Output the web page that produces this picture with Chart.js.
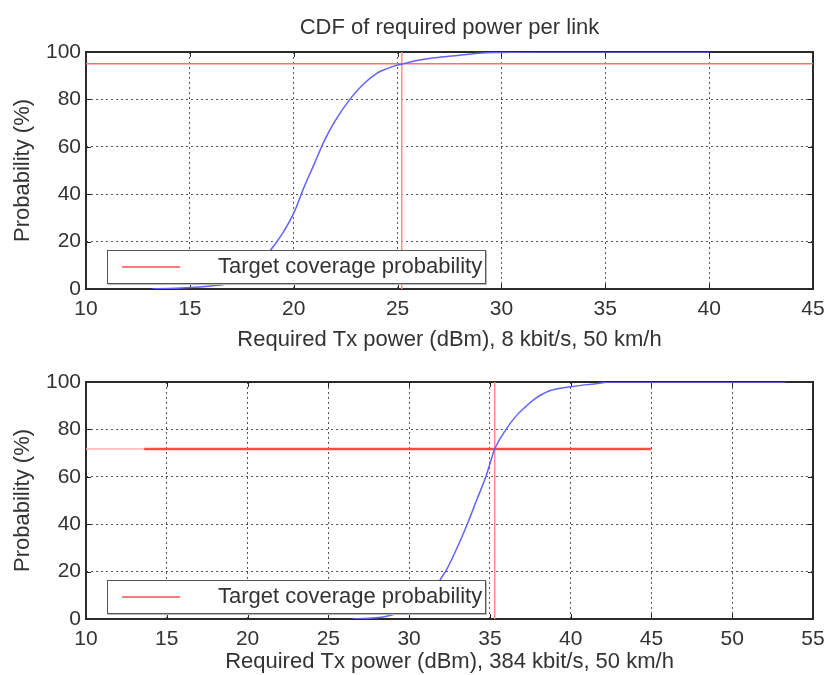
<!DOCTYPE html>
<html>
<head>
<meta charset="utf-8">
<script src="https://cdn.jsdelivr.net/npm/chart.js@4.4.1/dist/chart.umd.min.js"></script>
<style>
  body { margin: 0; background: #fff; width: 825px; height: 675px; position: relative; overflow: hidden; font-family: 'Liberation Sans', Arial, sans-serif; }
  .plot { position: absolute; left: 0; width: 825px; }
  #topWrap { top: 0; height: 353px; }
  #botWrap { top: 353px; height: 322px; }
  .title { position: absolute; left: 86px; width: 727px; top: 16px; text-align: center; font-size: 22px; line-height: 22px; color: #333; }
  .legend { position: absolute; left: 107px; width: 379px; height: 34px; box-sizing: border-box; border: 1.5px solid #555; background: #fff; box-shadow: 1px 1px 0 #bbb; }
  .legend .swatch { position: absolute; left: 14px; top: 15px; width: 58px; height: 2px; background: #ff7b7b; }
  .legend .label { position: absolute; left: 110px; top: 2px; font-size: 22px; color: #333; white-space: nowrap; }
</style>
</head>
<body>
<div class="plot" id="topWrap"><canvas id="topChart"></canvas></div>
<div class="plot" id="botWrap"><canvas id="botChart"></canvas></div>
<div class="title">CDF of required power per link</div>
<div class="legend" style="top:250px"><div class="swatch"></div><span class="label">Target coverage probability</span></div>
<div class="legend" style="top:580px"><div class="swatch"></div><span class="label">Target coverage probability</span></div>
<script>
// ---- data ----
const topPower = [13.2, 14, 15, 16, 16.7, 17.5, 18.3, 19, 19.5, 20, 20.5, 21, 21.5, 22, 22.7, 23.3, 24, 24.5, 25, 25.5, 26, 26.7, 27.6, 28.9, 30, 31.5, 35, 40];
const topProb  = [0, 0.2, 0.6, 1.3, 2, 5, 10, 17.7, 24, 32, 43, 53, 63, 71, 80, 86, 91, 93, 94.5, 95.5, 96.5, 97.5, 98.3, 99.5, 99.8, 100, 100, 100];
const topTargetX = [10, 45];
const topTargetY = [95, 95];
const topMarkX = [25.2, 25.2];
const topMarkY = [0, 100];

const botPower = [26.5, 27.5, 28.4, 29.3, 30.5, 31.3, 32.25, 32.9, 33.6, 34.2, 34.75, 35.3, 36.0, 36.6, 37.2, 37.7, 38.7, 40, 41.8, 42.3, 45, 50, 53.3];
const botProb  = [0, 0.3, 0.8, 2.5, 6, 11, 20, 29, 40, 50.5, 60, 71.7, 80, 85.5, 89.5, 92.5, 96.3, 98, 99.5, 100, 100, 100, 100];
const botTargetX = [10, 13.6, 45];   // first stretch is drawn faint in the original
const botTargetY = [71.7, 71.7, 71.7];
const botMarkX = [35.3, 35.3];
const botMarkY = [0, 100];

const topXTicks = [10, 15, 20, 25, 30, 35, 40, 45];
const botXTicks = [10, 15, 20, 25, 30, 35, 40, 45, 50, 55];
const yTicks = [0, 20, 40, 60, 80, 100];

const FONT = "'Liberation Sans', Arial, sans-serif";
const TEXT = '#333';

const pts = (xs, ys) => xs.map((x, i) => ({ x, y: ys[i] }));

// matlab-ish box with inward ticks on all four sides
const framePlugin = {
  id: 'frame',
  beforeDatasetsDraw(chart) {
    const { ctx, chartArea: { left, top, right, bottom }, scales: { x, y } } = chart;
    ctx.save();
    ctx.strokeStyle = '#222';
    ctx.lineWidth = 1;
    ctx.beginPath();
    x.ticks.forEach(t => {
      const px = Math.round(x.getPixelForValue(t.value)) + 0.5;
      ctx.moveTo(px, top); ctx.lineTo(px, top + 5);
      ctx.moveTo(px, bottom); ctx.lineTo(px, bottom - 5);
    });
    y.ticks.forEach(t => {
      const py = Math.round(y.getPixelForValue(t.value)) + 0.5;
      ctx.moveTo(left, py); ctx.lineTo(left + 5, py);
      ctx.moveTo(right, py); ctx.lineTo(right - 5, py);
    });
    ctx.stroke();
    ctx.lineWidth = 2;
    ctx.strokeStyle = '#2a2a2a';
    ctx.strokeRect(left, top, right - left, bottom - top);
    ctx.restore();
  }
};

function makeChart(id, o) {
  return new Chart(document.getElementById(id), {
    type: 'line',
    data: {
      datasets: [
        { data: pts(o.power, o.prob), borderColor: '#6262ff', borderWidth: 1.5, cubicInterpolationMode: 'monotone' },
        {
          data: pts(o.targetX, o.targetY), borderColor: o.hColor, borderWidth: o.hWidth,
          segment: o.hFaintFirst ? {
            borderColor: c => c.p0DataIndex === 0 ? '#ffb0b0' : o.hColor,
            borderWidth: c => c.p0DataIndex === 0 ? 1.5 : o.hWidth
          } : {}
        },
        { data: pts(o.markX, o.markY), borderColor: '#ff8c8c', borderWidth: 1.5 }
      ]
    },
    options: {
      responsive: true, maintainAspectRatio: false, animation: false,
      parsing: false,
      elements: { point: { radius: 0 } },
      layout: { padding: o.padding },
      plugins: {
        legend: { display: false },
        tooltip: { enabled: false }
      },
      scales: {
        x: {
          type: 'linear', min: o.xTicks[0], max: o.xTicks[o.xTicks.length - 1],
          afterBuildTicks: s => { s.ticks = o.xTicks.map(v => ({ value: v })); },
          afterFit: s => { s.height = o.xHeight; s.paddingLeft = 0; s.paddingRight = 0; },
          grid: { color: '#555', drawTicks: false, lineWidth: 1 },
          border: { display: false, dash: [2, 3] },
          ticks: { color: TEXT, font: { family: FONT, size: 21 }, padding: 8, maxRotation: 0 },
          title: { display: true, text: o.xLabel, color: TEXT, font: { family: FONT, size: 22 }, padding: { top: 0, bottom: 0 } }
        },
        y: {
          type: 'linear', min: 0, max: 100,
          afterBuildTicks: s => { s.ticks = yTicks.map(v => ({ value: v })); },
          afterFit: s => { s.width = 86; },
          grid: { color: '#555', drawTicks: false, lineWidth: 1 },
          border: { display: false, dash: [2, 3] },
          ticks: { color: TEXT, font: { family: FONT, size: 21 }, padding: 5 },
          title: { display: true, text: 'Probability (%)', color: TEXT, font: { family: FONT, size: 22 }, padding: { top: 10, bottom: 0 } }
        }
      }
    },
    plugins: [framePlugin]
  });
}

makeChart('topChart', {
  power: topPower, prob: topProb,
  targetX: topTargetX, targetY: topTargetY, markX: topMarkX, markY: topMarkY,
  hColor: '#ff7070', hWidth: 1.5,
  xTicks: topXTicks, xHeight: 64,
  xLabel: 'Required Tx power (dBm), 8 kbit/s, 50 km/h',
  padding: { left: 0, right: 12, top: 52, bottom: 0 }
});

makeChart('botChart', {
  power: botPower, prob: botProb,
  targetX: botTargetX, targetY: botTargetY, markX: botMarkX, markY: botMarkY,
  hColor: '#ff4a4a', hWidth: 2.5, hFaintFirst: true,
  xTicks: botXTicks, xHeight: 56,
  xLabel: 'Required Tx power (dBm), 384 kbit/s, 50 km/h',
  padding: { left: 0, right: 12, top: 29, bottom: 0 }
});
</script>
</body>
</html>
